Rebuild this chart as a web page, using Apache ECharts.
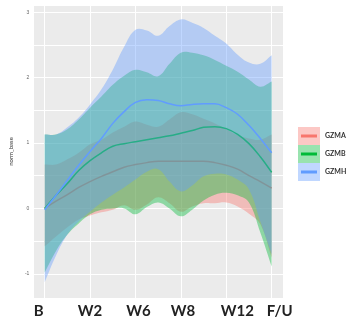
<!DOCTYPE html>
<html>
<head>
<meta charset="utf-8">
<script src="https://cdn.jsdelivr.net/npm/echarts@6/dist/echarts.min.js"></script>
<style>html,body{margin:0;padding:0;background:#fff}</style>
</head>
<body>
<div id="main" style="width:358px;height:327px;"></div>
<script>
// time points (B=0 ... F/U=5), read every quarter step along the smoother
var weeks = [0, 0.25, 0.5, 0.75, 1, 1.25, 1.5, 1.75, 2, 2.25, 2.5, 2.75, 3, 3.25, 3.5, 3.75, 4, 4.25, 4.5, 4.75, 5]
var tickLabels = ['B', 'W2', 'W6', 'W8', 'W12', 'F/U']
var seriesNames = ['GZMA', 'GZMB', 'GZMH']

var gzmaFit = [0, 0.11, 0.21, 0.32, 0.41, 0.49, 0.56, 0.63, 0.67, 0.70, 0.72, 0.72, 0.72, 0.72, 0.72, 0.70, 0.66, 0.60, 0.50, 0.41, 0.31]
var gzmaUpper = [0.67, 0.67, 0.75, 0.85, 0.98, 1.05, 1.16, 1.25, 1.33, 1.28, 1.25, 1.36, 1.47, 1.44, 1.37, 1.30, 1.21, 1.12, 1.07, 1.05, 1.13]
var gzmaLower = [-0.58, -0.43, -0.29, -0.17, -0.11, -0.06, -0.02, 0.05, -0.02, 0.06, 0.17, 0.08, -0.05, 0.03, 0.08, 0.08, 0.09, 0.03, -0.08, -0.24, -0.75]

var gzmbFit = [0, 0.20, 0.38, 0.58, 0.73, 0.85, 0.95, 0.99, 1.02, 1.05, 1.08, 1.11, 1.15, 1.19, 1.24, 1.25, 1.22, 1.13, 0.99, 0.79, 0.55]
var gzmbUpper = [1.13, 1.13, 1.21, 1.36, 1.54, 1.71, 1.89, 2.03, 2.12, 2.08, 2.02, 2.21, 2.38, 2.38, 2.34, 2.27, 2.18, 2.09, 1.97, 1.86, 1.94]
var gzmbLower = [-0.98, -0.65, -0.40, -0.23, -0.09, -0.02, 0, 0, -0.09, 0.02, 0.09, 0, -0.12, -0.02, 0.12, 0.21, 0.24, 0.20, 0.09, -0.37, -0.89]

var gzmhFit = [-0.02, 0.20, 0.43, 0.66, 0.87, 1.07, 1.30, 1.48, 1.62, 1.66, 1.65, 1.60, 1.57, 1.59, 1.60, 1.60, 1.54, 1.44, 1.27, 1.07, 0.85]
var gzmhUpper = [1.13, 1.13, 1.24, 1.39, 1.59, 1.82, 2.12, 2.47, 2.73, 2.72, 2.64, 2.79, 2.89, 2.84, 2.76, 2.64, 2.52, 2.35, 2.23, 2.21, 2.34]
var gzmhLower = [-1.13, -0.72, -0.40, -0.20, -0.05, 0.09, 0.21, 0.32, 0.44, 0.56, 0.60, 0.41, 0.26, 0.35, 0.49, 0.53, 0.52, 0.44, 0.29, -0.20, -0.70]

var COLORS = ['#F8766D', '#00BA38', '#619CFF']
var FILLS = ['rgba(248,118,109,0.4)', 'rgba(0,186,56,0.4)', 'rgba(97,156,255,0.4)']
var SMOOTH = 0.4
// small nudges of the big x labels, like in the original figure
var labelShift = [-6, 0, 3, 2, 11, 8]

function pairs (ys) {
  return weeks.map(function (x, i) { return [x, ys[i]] })
}

// ribbon = upper edge forward, lower edge back; corner points doubled so the ends stay square
function ribbon (lo, up, fill) {
  return function (params, api) {
    var last = weeks.length - 1
    var pts = []
    for (var i = 0; i <= last; i++) pts.push(api.coord([weeks[i], up[i]]))
    pts.push(api.coord([weeks[last], up[last]]))
    pts.push(api.coord([weeks[last], lo[last]]))
    for (var j = last; j >= 0; j--) pts.push(api.coord([weeks[j], lo[j]]))
    pts.push(api.coord([weeks[0], lo[0]]))
    pts.push(api.coord([weeks[0], up[0]]))
    return {
      type: 'polygon',
      shape: { points: pts, smooth: SMOOTH },
      style: { fill: fill, stroke: null }
    }
  }
}

function group (idx, fit, lo, up) {
  var name = seriesNames[idx]
  return [
    {
      name: name + '_ci', type: 'custom', z: 2 + idx, silent: true,
      data: [[weeks[0], fit[0]]],
      renderItem: ribbon(lo, up, FILLS[idx])
    },
    {
      name: name, type: 'line', z: 2 + idx, data: pairs(fit), symbol: 'none', smooth: SMOOTH,
      lineStyle: { color: COLORS[idx], width: 1.5 },
      itemStyle: { color: COLORS[idx] }
    }
  ]
}

var rich = {}
labelShift.forEach(function (d, i) {
  rich['s' + i] = {
    fontSize: 15, fontWeight: 'bold', fontFamily: 'Lato', color: '#222',
    padding: d >= 0 ? [0, 0, 0, 2 * d] : [0, -2 * d, 0, 0]
  }
})

var chart = echarts.init(document.getElementById('main'))
var option = {
  animation: false,
  grid: { left: 32, right: 75, top: 5, bottom: 29, show: true, backgroundColor: '#EBEBEB', borderWidth: 0 },
  legend: [
    {
      left: 298, top: 127, orient: 'vertical', padding: 0, itemGap: 0,
      itemWidth: 22, itemHeight: 18, icon: 'rect', selectedMode: false,
      itemStyle: { borderWidth: 0 },
      data: seriesNames.map(function (n, i) { return { name: n, itemStyle: { color: FILLS[i], borderWidth: 0 } } }),
      textStyle: { fontSize: 7, fontWeight: 'bold', color: '#333', lineHeight: 18, fontFamily: 'Lato' }
    },
    {
      left: 301, top: 127, orient: 'vertical', padding: 0, itemGap: 0,
      itemWidth: 16, itemHeight: 3, icon: 'rect', selectedMode: false,
      data: seriesNames.map(function (n, i) { return { name: n, itemStyle: { color: COLORS[i], borderWidth: 0 } } }),
      textStyle: { fontSize: 7, fontWeight: 'bold', color: 'rgba(0,0,0,0)', lineHeight: 18, fontFamily: 'Lato' }
    }
  ],
  xAxis: {
    type: 'value', min: -0.25, max: 5.25, splitNumber: 5,
    axisLine: { show: false },
    axisTick: { show: false },
    splitLine: { show: true, lineStyle: { color: '#FFFFFF', width: 1 } },
    axisLabel: {
      margin: 6,
      rich: rich,
      formatter: function (v) {
        var i = Math.round(v)
        if (Math.abs(v - i) > 1e-6 || i < 0 || i >= tickLabels.length) return ''
        return '{s' + i + '|' + tickLabels[i] + '}'
      }
    }
  },
  yAxis: {
    type: 'value', min: -1.37, max: 3.11, splitNumber: 9,
    name: 'norm_base', nameLocation: 'middle', nameGap: 12,
    nameTextStyle: { fontSize: 6, color: '#333', fontFamily: 'Lato' },
    axisLine: { show: false },
    axisTick: { show: false },
    splitLine: { show: true, lineStyle: { color: '#FFFFFF', width: 1 } },
    axisLabel: {
      fontSize: 5, color: '#666', margin: 4,
      formatter: function (v) {
        var i = Math.round(v)
        if (Math.abs(v - i) > 1e-6 || v < -1.3 || v > 3.05) return ''
        return String(i)
      }
    }
  },
  series: [].concat(
    group(0, gzmaFit, gzmaLower, gzmaUpper),
    group(1, gzmbFit, gzmbLower, gzmbUpper),
    group(2, gzmhFit, gzmhLower, gzmhUpper)
  )
}
chart.setOption(option)
</script>
</body>
</html>
